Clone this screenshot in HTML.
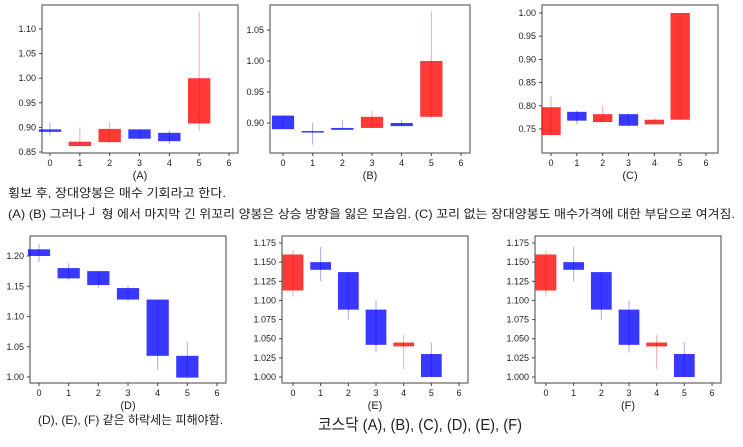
<!DOCTYPE html>
<html><head><meta charset="utf-8">
<style>
body{margin:0;background:#fff;width:743px;height:442px;overflow:hidden;font-family:"Liberation Sans","Noto Sans CJK KR",sans-serif;}
svg text{font-family:"Liberation Sans","Noto Sans CJK KR",sans-serif;}
</style></head>
<body>
<svg id="c" width="743" height="442">
<text x="8" y="197" font-size="12" fill="#222" textLength="218" lengthAdjust="spacingAndGlyphs">횡보 후, 장대양봉은 매수 기회라고 한다.</text>
<text x="8" y="218" font-size="12" fill="#222" textLength="727" lengthAdjust="spacingAndGlyphs">(A) (B) 그러나 ┘ 형 에서 마지막 긴 위꼬리 양봉은 상승 방향을 잃은 모습임. (C)  꼬리 없는 장대양봉도 매수가격에 대한 부담으로 여겨짐.</text>
<text x="38" y="424" font-size="12" fill="#222">(D), (E), (F) 같은 하락세는 피해야함.</text>
<text x="318" y="430" font-size="16" fill="#222" textLength="204" lengthAdjust="spacingAndGlyphs">코스닥 (A), (B), (C), (D), (E), (F)</text>
</svg>
<script>
const opensA=[0.896,0.862,0.870,0.896,0.889,0.908];
const closesA=[0.891,0.871,0.897,0.877,0.872,1.000];
const highsA=[0.910,0.900,0.910,0.896,0.894,1.135];
const lowsA=[0.882,0.862,0.870,0.877,0.866,0.893];
const opensB=[0.912,0.887,0.892,0.892,0.900,0.910];
const closesB=[0.890,0.885,0.889,0.910,0.895,1.000];
const highsB=[0.912,0.900,0.905,0.920,0.905,1.080];
const lowsB=[0.890,0.865,0.889,0.892,0.895,0.908];
const opensC=[0.737,0.787,0.765,0.782,0.760,0.770];
const closesC=[0.797,0.768,0.782,0.757,0.770,1.000];
const highsC=[0.820,0.790,0.800,0.782,0.775,1.000];
const lowsC=[0.737,0.760,0.765,0.757,0.760,0.770];
const opensD=[1.211,1.180,1.175,1.147,1.128,1.035];
const closesD=[1.200,1.163,1.152,1.128,1.035,0.999];
const highsD=[1.220,1.188,1.175,1.151,1.128,1.058];
const lowsD=[1.190,1.160,1.147,1.125,1.012,0.999];
const opensE=[1.113,1.150,1.137,1.088,1.040,1.030];
const closesE=[1.160,1.140,1.088,1.042,1.045,1.000];
const highsE=[1.165,1.170,1.137,1.100,1.055,1.045];
const lowsE=[1.105,1.125,1.075,1.032,1.010,1.000];
const ticksA=["0.85","0.90","0.95","1.00","1.05","1.10"];
const ticksB=["0.90","0.95","1.00","1.05"];
const ticksC=["0.75","0.80","0.85","0.90","0.95","1.00"];
const ticksD=["1.00","1.05","1.10","1.15","1.20"];
const ticksE=["1.000","1.025","1.050","1.075","1.100","1.125","1.150","1.175"];
const xTicks=["0","1","2","3","4","5","6"];

const NS="http://www.w3.org/2000/svg";
const svg=document.getElementById('c');
function mk(tag,attrs){const e=document.createElementNS(NS,tag);for(const k in attrs)e.setAttribute(k,attrs[k]);svg.appendChild(e);return e;}
function panel(id,label,box,xm,ym,O,C,H,L,ticks){
  const sx=i=>xm[0]+(xm[1]-xm[0])*i/6;
  const sy=v=>ym[1]+(v-ym[0])*(ym[3]-ym[1])/(ym[2]-ym[0]);
  const w=(xm[1]-xm[0])/6*0.75;
  let r=mk('rect',{x:box[0],y:box[1],width:box[2]-box[0],height:box[3]-box[1],fill:'none',stroke:'#444','stroke-width':1});
  
  
  for(let i=0;i<O.length;i++){
    const up=C[i]>=O[i];const col=up?'#ff0000':'#0000ff';
    let l=mk('line',{x1:sx(i),x2:sx(i),y1:sy(H[i]),y2:sy(L[i]),stroke:col,'stroke-opacity':0.35,'stroke-width':1});
    
    
    const t=Math.max(O[i],C[i]),b=Math.min(O[i],C[i]);
    let bx=mk('rect',{x:sx(i)-w/2,y:sy(t),width:w,height:Math.max(1.5,sy(b)-sy(t)),fill:col,'fill-opacity':0.78});
    
    
  }
  xTicks.forEach((t,i)=>{
    mk('line',{x1:sx(i),x2:sx(i),y1:box[3],y2:box[3]+3,stroke:'#444'});
    let tx=mk('text',{x:sx(i),y:box[3]+13,'font-size':9,'text-anchor':'middle',fill:'#222'});tx.textContent=t;
    
    
  });
  ticks.forEach(t=>{
    const y=sy(parseFloat(t));
    mk('line',{x1:box[0]-3,x2:box[0],y1:y,y2:y,stroke:'#444'});
    let tx=mk('text',{x:box[0]-6,y:y+3,'font-size':9,'text-anchor':'end',fill:'#222'});tx.textContent=t;
    
    
  });
  let lb=mk('text',{x:(box[0]+box[2])/2,y:box[3]+26,'font-size':11,'text-anchor':'middle',fill:'#222'});lb.textContent=label;
  
  
}
panel('a','(A)',[42,5,238,153],[50,229],[1.10,29,0.85,152],opensA,closesA,highsA,lowsA,ticksA);
panel('b','(B)',[270,5,470,153],[283,461],[1.05,30,0.90,123],opensB,closesB,highsB,lowsB,ticksB);
panel('c','(C)',[542,5,718,153],[551,706],[1.00,13,0.75,129],opensC,closesC,highsC,lowsC,ticksC);
panel('d','(D)',[30,236,226,383],[39,217],[1.20,256,1.00,377],opensD,closesD,highsD,lowsD,ticksD);
panel('e','(E)',[282,236,468,383],[293,459],[1.175,243,1.000,377],opensE,closesE,highsE,lowsE,ticksE);
panel('f','(F)',[535,236,721,383],[546,712],[1.175,243,1.000,377],opensE,closesE,highsE,lowsE,ticksE);
</script>
</body></html>
